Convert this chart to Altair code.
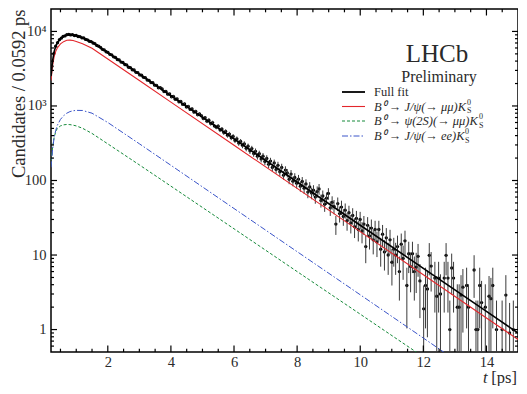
import altair as alt
import pandas as pd

# ---------------- data ----------------
T_MIN = 0.2
BIN_W = 0.0592
ERR_SCALE = 1.45  # sWeighted uncertainties are larger than sqrt(N)

counts = [
    3420, 5050, 6350, 7050, 7750, 8120, 8600, 8700, 9060, 9110,
    8990, 9070, 8810, 8850, 8560, 8520, 8210, 8180, 7820, 7720,
    7380, 7310, 7000, 6860, 6490, 6350, 6120, 5760, 5650, 5340,
    5230, 4930, 4850, 4570, 4480, 4200, 4150, 3880, 3830, 3600,
    3550, 3310, 3270, 3060, 3040, 2830, 2800, 2610, 2590, 2420,
    2400, 2230, 2210, 2060, 2055, 1900, 1890, 1750, 1760, 1690,
    1560, 1570, 1440, 1450, 1330, 1345, 1230, 1240, 1140, 1150,
    1050, 1065, 970, 985, 900, 912, 830, 845, 765, 780,
    740, 680, 695, 625, 645, 580, 598, 540, 520, 535,
    478, 490, 440, 455, 405, 420, 376, 390, 345, 362,
    318, 334, 296, 310, 270, 288, 250, 268, 230, 246,
    212, 229, 195, 212, 180, 198, 165, 182, 150, 172,
    141, 160, 131, 150, 118, 138, 126, 104, 122, 98,
    110, 92, 104, 84, 97, 79, 90, 70, 82, 68,
    74, 60, 71, 77, 54, 62, 48, 58, 67, 43,
    51, 45, 26, 49, 36, 44, 33, 40, 29, 37,
    27, 34, 24, 31, 22, 30, 21, 26, 13, 25,
    18, 23, 16, 22, 15, 22, 12, 19, 11, 17,
    10, 16, 8, 12, 10, 13, 6, 14, 9, 15.5,
    3.9, 10.4, 7, 10.4, 6.0, 6.9, 9.6, 4.5, 0, 1.9,
    3.9, 3.5, 9.9, 7.1, 0, 4.9, 2.8, 4.9, 3.0, 0,
    4.9, 9.9, 4.9, 1.0, 6.7, 4.9, 0, 2.0, 2.0, 2.9,
    3.7, 0, 3.9, 2.0, 0, 0, 6.3, 1.0, 1.0, 3.9,
    2.3, 0, 2.0, 0, 2.8, 2.6, 3.9, 0, 1.0, 0,
    0, 1.0, 0, 2.9, 0, 0.9, 0, 1.0, 0, 0,
]

curve_t = [0.2, 0.25, 0.3, 0.35, 0.4, 0.5, 0.6, 0.7, 0.8, 0.9, 1.0, 1.2, 1.5,
           2, 3, 4, 6, 8, 10, 12, 14, 15]
full_fit = [2510, 4040, 5360, 6320, 7050, 8000, 8598, 8965, 9052, 8965, 8763,
            8222, 7178, 5187, 2669, 1371, 361.6, 95.4, 25.1, 6.64, 1.75, 0.90]
jpsi_mumu = [2200, 3500, 4600, 5400, 6000, 6800, 7300, 7600, 7650, 7550, 7350,
             6850, 5950, 4277, 2196, 1127, 297, 78.3, 20.6, 5.44, 1.43, 0.737]
psi2s_mumu = [160, 280, 380, 450, 500, 540, 558, 565, 562, 553, 540,
              502, 428, 310, 162, 84, 22.5, 6.0, 1.61, 0.43, 0.116, 0.060]
jpsi_ee = [150, 260, 380, 470, 550, 660, 740, 800, 840, 862, 873,
           870, 800, 600, 311, 160, 42.1, 11.1, 2.93, 0.77, 0.20, 0.104]

x_major = [2, 4, 6, 8, 10, 12, 14]
x_minor = [0.5, 1, 1.5, 2.5, 3, 3.5, 4.5, 5, 5.5, 6.5, 7, 7.5, 8.5, 9, 9.5,
           10.5, 11, 11.5, 12.5, 13, 13.5, 14.5]
y_major = [1, 10, 100, 1000, 10000]
y_minor = [0.6, 0.7, 0.8, 0.9, 2, 3, 4, 5, 6, 7, 8, 9, 20, 30, 40, 50, 60, 70,
           80, 90, 200, 300, 400, 500, 600, 700, 800, 900, 2000, 3000, 4000,
           5000, 6000, 7000, 8000, 9000]

# ---------------- chart ----------------
W, H = 467, 343
SERIF = "Liberation Serif"
TXT = "#2a2a2a"
RED, GREEN, BLUE = "#e3262b", "#168a3a", "#3b55c9"

xs = alt.Scale(domain=[0.2, 15], nice=False, zero=False)
ys = alt.Scale(type="log", domain=[0.5, 20000], nice=False)

x_axis = alt.Axis(values=x_major, format="d", ticks=False, domain=False,
                  grid=False, labelFont=SERIF, labelFontSize=14.5,
                  labelColor=TXT, labelPadding=3, title="")
y_axis = alt.Axis(values=y_major, ticks=False, domain=False, grid=False,
                  labelExpr="datum.value == 1000 ? '10³' : datum.value == 10000 ? '10⁴' : datum.label",
                  labelFont=SERIF, labelFontSize=14.5, labelColor=TXT,
                  labelPadding=5,
                  title="Candidates / 0.0592 ps", titleFont=SERIF,
                  titleFontSize=18.5, titleFontWeight="normal",
                  titleColor=TXT, titleAngle=270, titleAlign="right",
                  titleBaseline="alphabetic", titleX=-27, titleY=0)

pts = pd.DataFrame({"t": [T_MIN + BIN_W * (i + 0.5) for i in range(len(counts))],
                    "n": counts})
curves = pd.DataFrame({"t": curve_t, "full": full_fit, "jm": jpsi_mumu,
                       "ps": psi2s_mumu, "je": jpsi_ee})
one = pd.DataFrame({"d": [0]})

base_pts = alt.Chart(pts).transform_filter("datum.n > 0").transform_calculate(
    err=f"{ERR_SCALE} * sqrt(datum.n)"
).transform_calculate(
    lo="max(datum.n - datum.err, 0.2)", hi="datum.n + datum.err"
)

points = base_pts.mark_circle(size=11, color="black", opacity=1, clip=True).encode(
    x=alt.X("t:Q", scale=xs, axis=x_axis),
    y=alt.Y("n:Q", scale=ys, axis=y_axis),
)

errbars = base_pts.mark_rule(clip=True, color="#3a3a3a", strokeWidth=1).encode(
    x=alt.X("t:Q", scale=xs, axis=x_axis),
    y=alt.Y("lo:Q", scale=ys, axis=y_axis),
    y2="hi:Q",
)


def curve(col, color, width, dash=None):
    kw = dict(clip=True, color=color, strokeWidth=width)
    if dash:
        kw["strokeDash"] = dash
    return alt.Chart(curves).mark_line(**kw).encode(
        x=alt.X("t:Q", scale=xs, axis=x_axis),
        y=alt.Y(f"{col}:Q", scale=ys, axis=y_axis),
    )


GREEN_DASH = [3, 2]
BLUE_DASH = [6, 2, 1.5, 2]

lines = [
    curve("ps", GREEN, 1, GREEN_DASH),
    curve("je", BLUE, 1, BLUE_DASH),
    curve("jm", RED, 1.1),
    curve("full", "black", 1.6),
]


def xticks(vals, length):
    d = pd.DataFrame({"v": vals})
    b = alt.Chart(d).mark_rule(color="black", strokeWidth=1.2).encode(
        x=alt.X("v:Q", scale=xs, axis=x_axis), y=alt.value(H), y2=alt.value(H - length))
    t = alt.Chart(d).mark_rule(color="black", strokeWidth=1.2).encode(
        x=alt.X("v:Q", scale=xs, axis=x_axis), y=alt.value(0), y2=alt.value(length))
    return [b, t]


def yticks(vals, length):
    d = pd.DataFrame({"v": vals})
    l = alt.Chart(d).mark_rule(color="black", strokeWidth=1.2).encode(
        y=alt.Y("v:Q", scale=ys, axis=y_axis), x=alt.value(0), x2=alt.value(length))
    r = alt.Chart(d).mark_rule(color="black", strokeWidth=1.2).encode(
        y=alt.Y("v:Q", scale=ys, axis=y_axis), x=alt.value(W), x2=alt.value(W - length))
    return [l, r]


ticks = xticks(x_major, 6.5) + xticks(x_minor, 3.3) + yticks(y_major, 6) + yticks(y_minor, 3)


def txt(s, x, y, size, align="left", baseline="middle", style="normal"):
    return alt.Chart(one).mark_text(
        text=s, font=SERIF, fontSize=size, color=TXT, align=align,
        baseline=baseline, fontStyle=style,
    ).encode(x=alt.value(x), y=alt.value(y))


def legline(y, color, width, dash=None):
    kw = dict(color=color, strokeWidth=width)
    if dash:
        kw["strokeDash"] = dash
    return alt.Chart(one).mark_rule(**kw).encode(
        x=alt.value(291), x2=alt.value(314), y=alt.value(y))


rows = [83, 97.5, 112, 127]
LS = 12.5
annots = [
    txt("LHCb", 386, 53, 25, align="center", baseline="alphabetic"),
    txt("Preliminary", 388, 73, 16, align="center", baseline="alphabetic"),
    legline(rows[0], "black", 1.8),
    legline(rows[1], RED, 1.1),
    legline(rows[2], GREEN, 1, GREEN_DASH),
    legline(rows[3], BLUE, 1, BLUE_DASH),
    txt("Full fit", 323, rows[0], LS),
    txt("B⁰ → J/ψ(→ μμ)K", 323, rows[1], LS, style="italic"),
    txt("0", 416, rows[1] - 4, 8),
    txt("S", 416, rows[1] + 4.5, 8),
    txt("B⁰ → ψ(2S)(→ μμ)K", 323, rows[2], LS, style="italic"),
    txt("0", 428, rows[2] - 4, 8),
    txt("S", 428, rows[2] + 4.5, 8),
    txt("B⁰ → J/ψ(→ ee)K", 323, rows[3], LS, style="italic"),
    txt("0", 414, rows[3] - 4, 8),
    txt("S", 414, rows[3] + 4.5, 8),
    txt("t", 432, 373.5, 16.5, baseline="alphabetic", style="italic"),
    txt("[ps]", 466, 373.5, 16.5, align="right", baseline="alphabetic"),
]

chart = alt.layer(points, errbars, *lines, *ticks, *annots).properties(
    width=W, height=H,
    autosize=alt.AutoSizeParams(type="none"),
    padding={"left": 43, "top": 1, "right": 0, "bottom": 34},
    background="white",
).configure_view(stroke="black", strokeWidth=1.5)

chart.save("out.html", embed_options={"renderer": "svg", "actions": False})
